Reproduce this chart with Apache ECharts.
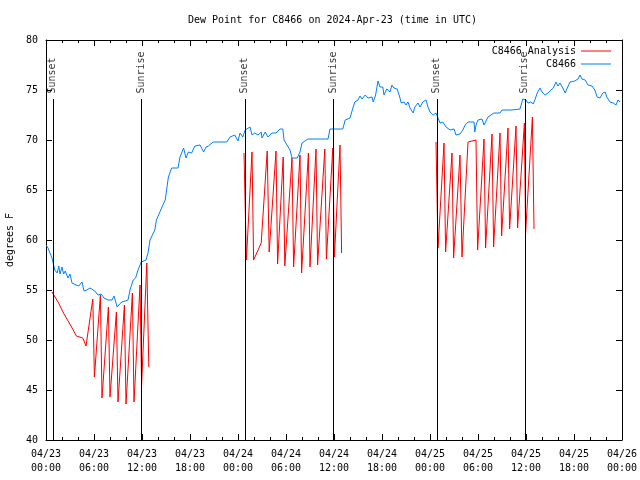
<!DOCTYPE html>
<html>
<head>
<meta charset="utf-8">
<script src="https://cdn.jsdelivr.net/npm/echarts@6/dist/echarts.min.js"></script>
<style>html,body{margin:0;padding:0;background:#fff}#c{width:640px;height:480px}</style>
</head>
<body>
<div id="c"></div>
<script>
// Hours since 2024-04-23 00:00 UTC
const xTickLabels = ['04/23\n00:00','04/23\n06:00','04/23\n12:00','04/23\n18:00','04/24\n00:00','04/24\n06:00','04/24\n12:00','04/24\n18:00','04/25\n00:00','04/25\n06:00','04/25\n12:00','04/25\n18:00','04/26\n00:00'];

const blueHours = [0.0,0.25,0.75,1.1,1.4,1.6,1.75,2.0,2.2,2.4,2.75,3.0,3.25,3.75,4.1,4.5,4.75,5.1,5.5,5.75,6.1,6.5,6.9,7.25,7.75,8.25,8.5,8.9,9.2,9.5,9.9,10.25,10.5,10.9,11.2,11.5,11.75,11.9,12.5,12.75,13.0,13.6,13.8,14.5,14.9,15.3,15.7,16.5,16.75,17.2,17.5,17.8,18.2,18.6,19.25,19.7,20.0,20.3,20.9,22.6,23.0,23.6,24.0,24.25,24.6,24.9,25.5,25.75,26.1,26.5,26.9,27.0,27.4,27.75,28.25,28.75,29.25,29.6,29.75,30.5,30.75,31.4,31.75,32.0,32.75,35.25,35.5,37.1,37.4,38.0,38.4,38.6,39.0,39.25,39.5,39.9,40.25,40.75,40.9,41.2,41.5,41.75,42.1,42.25,42.6,43.0,43.25,43.5,43.9,44.25,44.4,44.75,45.0,45.25,45.5,45.9,46.1,46.5,46.75,47.1,47.5,47.75,48.0,48.4,48.75,49.0,49.25,49.6,50.0,50.25,50.5,50.75,51.0,51.25,51.75,52.1,52.4,52.75,53.5,53.6,53.75,54.0,54.25,54.5,54.75,55.0,55.25,56.0,56.75,57.0,58.25,58.4,59.25,59.6,60.0,60.25,60.6,60.9,61.1,61.4,61.75,62.0,62.4,62.75,63.0,63.4,63.75,64.0,64.25,64.6,64.9,65.1,65.5,66.1,66.5,66.75,67.0,67.4,67.75,68.25,68.6,68.9,69.25,69.6,69.9,70.1,70.5,70.9,71.25,71.5,71.75];
const blueValues = [59.5,59.2,58.2,57.0,56.7,57.4,56.6,57.3,56.6,56.9,56.2,56.6,55.7,55.5,55.4,55.8,54.9,55.0,55.2,55.3,54.9,54.5,54.6,54.2,54.0,54.0,54.4,53.3,53.6,53.8,53.9,54.0,55.0,56.0,56.2,57.0,57.2,57.8,58.0,58.7,60.0,61.0,62.0,63.3,64.0,66.3,67.2,67.2,68.3,69.2,68.2,68.8,68.7,69.4,69.5,68.8,69.3,69.4,69.8,69.8,70.3,70.5,69.9,70.7,70.3,71.0,71.3,70.5,70.7,70.5,70.8,70.2,70.8,70.3,70.7,70.7,71.1,71.1,70.0,69.0,68.2,68.2,68.8,69.7,70.1,70.1,71.1,71.1,72.0,72.2,73.3,73.8,74.0,74.4,74.1,74.5,74.2,74.3,73.8,74.5,75.9,75.3,75.3,74.5,75.1,74.8,75.5,75.2,75.1,74.2,73.7,73.8,73.5,73.8,73.2,72.7,73.3,73.7,73.3,73.8,74.0,73.3,72.8,72.5,72.7,72.2,71.7,71.8,71.3,71.2,71.0,70.8,71.1,70.5,70.6,71.0,71.5,71.8,71.8,70.8,71.5,72.0,71.8,72.1,71.5,71.7,72.3,72.7,72.7,73.0,73.0,73.1,73.1,74.1,74.0,73.7,73.8,73.6,74.0,74.7,75.2,74.8,74.5,74.7,74.5,75.2,75.8,75.4,75.7,75.2,74.7,75.1,75.8,75.9,76.1,76.5,76.1,76.0,75.5,75.4,75.0,74.3,74.2,74.7,74.8,74.3,73.8,73.7,73.5,74.0,73.8];

// Analysis series, null = gap between runs
const analysisHours = [0.75,1.5,2.25,3.2,3.8,4.6,5.0,5.85,6.05,6.8,7.0,7.8,8.0,8.8,9.0,9.8,10.0,10.8,11.0,11.75,11.95,12.6,12.85,
  18.0,
  24.75,25.05,25.75,25.95,26.9,27.65,27.9,28.75,28.95,29.65,29.85,30.75,30.95,31.75,31.95,32.8,33.0,33.75,33.95,34.85,35.05,35.85,36.05,36.75,36.95,
  42.0,
  48.75,49.0,49.75,49.95,50.75,50.95,51.75,52.0,52.75,53.75,53.95,54.75,54.95,55.75,55.95,56.75,56.95,57.75,57.95,58.75,58.95,59.8,59.95,60.8,61.0];
const analysisValues = [54.8,53.8,52.6,51.3,50.4,50.2,49.4,54.1,46.3,54.5,44.2,53.3,44.3,52.8,43.8,53.5,43.6,54.7,43.8,55.5,45.5,57.7,47.3,
  null,
  68.7,58.0,68.8,58.0,59.7,68.9,58.8,68.9,57.6,68.3,57.4,68.2,57.3,68.5,56.7,68.7,57.3,69.1,57.5,69.1,58.1,69.2,58.3,69.5,58.7,
  null,
  69.8,59.2,69.7,58.8,68.7,58.2,68.5,58.3,69.8,70.0,59.0,70.1,59.2,70.6,59.3,70.7,60.4,71.2,61.1,71.4,61.2,71.7,60.7,72.3,61.1];

const sunHours = [0.9, 11.95, 24.9, 35.95, 48.9, 59.9];
const sunLabels = ['Sunset','Sunrise','Sunset','Sunrise','Sunset','Sunrise'];
const sunLineTop = 74.1;
const sunLabelBase = 74.6;

const FONT = 'DejaVu Sans Mono';
const LINE_ICON = 'path://M0,0L30,0L30,1L0,1Z';
const chart = echarts.init(document.getElementById('c'));

const blueData = blueHours.map((h, i) => [h, blueValues[i]]);
const redData = analysisHours.map((h, i) => [h, analysisValues[i]]);

const xBase = {
  type: 'value', min: 0, max: 72, interval: 6,
  axisLine: { show: true, onZero: false, lineStyle: { color: '#000', width: 1 } },
  axisTick: { show: true, inside: true, length: 6, lineStyle: { color: '#000' } },
  minorTick: { show: true, splitNumber: 3, length: 3, lineStyle: { color: '#000' } },
  splitLine: { show: false }
};
const yBase = {
  type: 'value', min: 40, max: 80, interval: 5,
  axisLine: { show: true, onZero: false, lineStyle: { color: '#000', width: 1 } },
  axisTick: { show: true, inside: true, length: 6, lineStyle: { color: '#000' } },
  splitLine: { show: false }
};

chart.setOption({
  animation: false,
  backgroundColor: '#fff',
  title: {
    text: 'Dew Point for C8466 on 2024-Apr-23 (time in UTC)',
    left: 183, top: 10,
    textStyle: { fontFamily: FONT, fontSize: 10, fontWeight: 'normal', color: '#000' }
  },
  grid: { left: 46, right: 18, top: 40, bottom: 40, outerBoundsMode: 'none', containLabel: false },
  legend: {
    orient: 'vertical', right: 24, top: 41, align: 'right',
    itemWidth: 30, itemHeight: 10, itemGap: 3,
    data: [{ name: 'C8466 Analysis', icon: LINE_ICON }, { name: 'C8466', icon: LINE_ICON }],
    textStyle: { fontFamily: FONT, fontSize: 10, color: '#000' }
  },
  xAxis: [
    Object.assign({}, xBase, {
      position: 'bottom',
      axisLabel: {
        show: true, margin: 7, fontFamily: FONT, fontSize: 10, color: '#000', lineHeight: 14,
        formatter: v => xTickLabels[Math.round(v / 6)]
      }
    }),
    Object.assign({}, xBase, { position: 'top', axisLabel: { show: false } })
  ],
  yAxis: [
    Object.assign({}, yBase, {
      position: 'left',
      name: 'degrees F', nameLocation: 'middle', nameGap: 30, nameRotate: 90,
      nameTextStyle: { fontFamily: FONT, fontSize: 10, color: '#000' },
      axisLabel: { show: true, margin: 8, fontFamily: FONT, fontSize: 10, color: '#000' }
    }),
    Object.assign({}, yBase, { position: 'right', axisLabel: { show: false } })
  ],
  series: [
    {
      name: 'C8466 Analysis', type: 'line', data: redData,
      symbol: 'none', showSymbol: false, connectNulls: false,
      lineStyle: { color: '#ff0000', width: 1 }, itemStyle: { color: '#ff0000' }, z: 3
    },
    {
      name: 'C8466', type: 'line', data: blueData,
      symbol: 'none', showSymbol: false,
      lineStyle: { color: '#0080ff', width: 1 }, itemStyle: { color: '#0080ff' }, z: 3
    },
    {
      name: 'sun', type: 'scatter',
      data: sunHours.map((h, i) => [h, sunLabelBase, sunLabels[i]]),
      symbolSize: 1, itemStyle: { color: 'rgba(0,0,0,0)' }, silent: true, z: 4,
      label: {
        show: true, rotate: 90, position: [0, 0], align: 'left', verticalAlign: 'middle',
        fontFamily: FONT, fontSize: 10, color: '#000',
        formatter: p => p.data[2]
      },
      markLine: {
        symbol: 'none', silent: true, animation: false,
        label: { show: false },
        lineStyle: { color: '#000', width: 1, type: 'solid' },
        data: sunHours.map(h => [{ coord: [h, sunLineTop] }, { coord: [h, 40] }])
      }
    }
  ]
});
</script>
</body>
</html>
